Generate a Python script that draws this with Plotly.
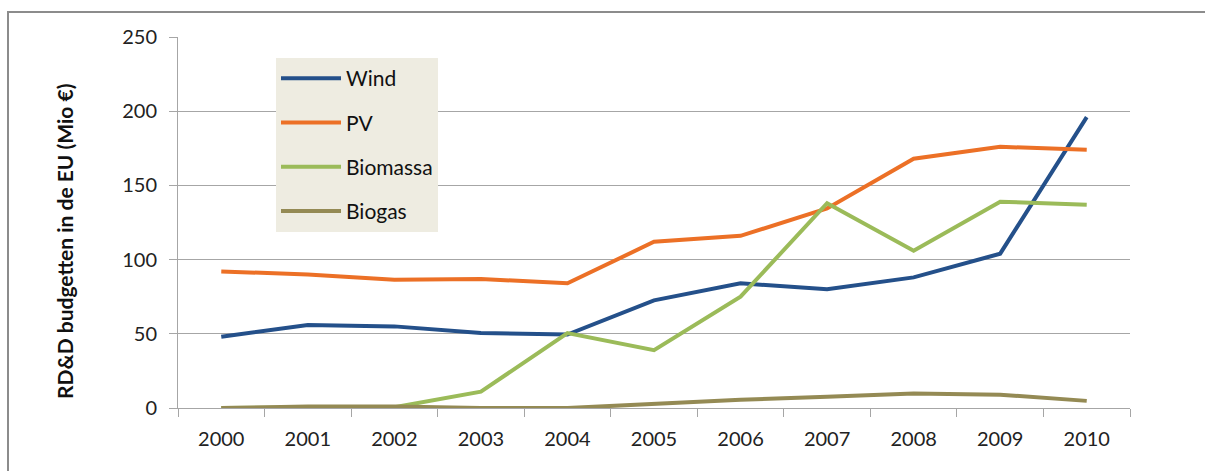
import plotly.graph_objects as go

years = ["2000", "2001", "2002", "2003", "2004", "2005", "2006", "2007", "2008", "2009", "2010"]
wind = [48, 56, 55, 50.5, 49.5, 72.5, 84, 80, 88, 104, 196]
pv = [92, 90, 86.5, 87, 84, 112, 116, 134.5, 168, 176, 174]
biomassa = [0, 0, 0.5, 11, 50.5, 39, 75, 138, 106, 139, 137]
biogas = [0, 1, 1, 0, 0, 3, 5.5, 7.5, 9.8, 9, 4.8]

series = [
    ("Wind", wind, "#24508A"),
    ("PV", pv, "#EC7026"),
    ("Biomassa", biomassa, "#9BBB59"),
    ("Biogas", biogas, "#948A54"),
]

W, H = 1205, 471
L, R, T, B = 178, 75, 37, 63
pw, ph = W - L - R, H - T - B

fig = go.Figure()
for name, vals, color in series:
    fig.add_trace(go.Scatter(
        x=years, y=vals, name=name, mode="lines",
        line=dict(color=color, width=4),
        legendgroup=name,
    ))

grid = "#A6A6A6"
font = "Lato, 'Open Sans', sans-serif"

fig.update_layout(
    width=W, height=H,
    margin=dict(l=L, r=R, t=T, b=B),
    paper_bgcolor="white", plot_bgcolor="white",
    font=dict(family=font, color="#222", size=20),
    showlegend=True,
    legend=dict(
        x=(276 - L) / pw, y=(408 - 58) / ph, xanchor="left", yanchor="top",
        bgcolor="#EEECE1", borderwidth=0,
        font=dict(size=21, family=font, color="#111"),
        tracegroupgap=14, traceorder="grouped",
        itemwidth=60,
    ),
    xaxis=dict(
        type="category", tickson="boundaries",
        ticks="outside", ticklen=8, tickcolor=grid, tickwidth=1,
        showline=True, linecolor=grid, linewidth=1,
        showgrid=False, tickfont=dict(size=20),
        ticklabelstandoff=13,
        range=[-0.5, 10.5],
    ),
    yaxis=dict(
        range=[0, 250], dtick=50,
        ticks="outside", ticklen=8, tickcolor=grid, tickwidth=1,
        showline=True, linecolor=grid, linewidth=1,
        showgrid=True, gridcolor=grid, gridwidth=1,
        zeroline=False, tickfont=dict(size=20),
        ticklabelstandoff=8,
    ),
)

# Vertical axis title
fig.add_annotation(
    text="<b>RD&amp;D budgetten in de EU (Mio €)</b>",
    textangle=-90, xref="paper", yref="paper",
    x=(64 - L) / pw, y=(408 - 242) / ph, xanchor="center", yanchor="middle",
    showarrow=False, font=dict(size=21, family=font, color="#111"),
)

# Outer chart frame
fig.add_shape(
    type="rect", xref="paper", yref="paper",
    x0=(8 - L) / pw, x1=(W + 10 - L) / pw,
    y0=-(H + 10 - (H - B)) / ph, y1=((H - B) - 12) / ph,
    line=dict(color="#8C8C8C", width=2), fillcolor="rgba(0,0,0,0)",
    layer="below",
)

fig.write_html("out.html")
